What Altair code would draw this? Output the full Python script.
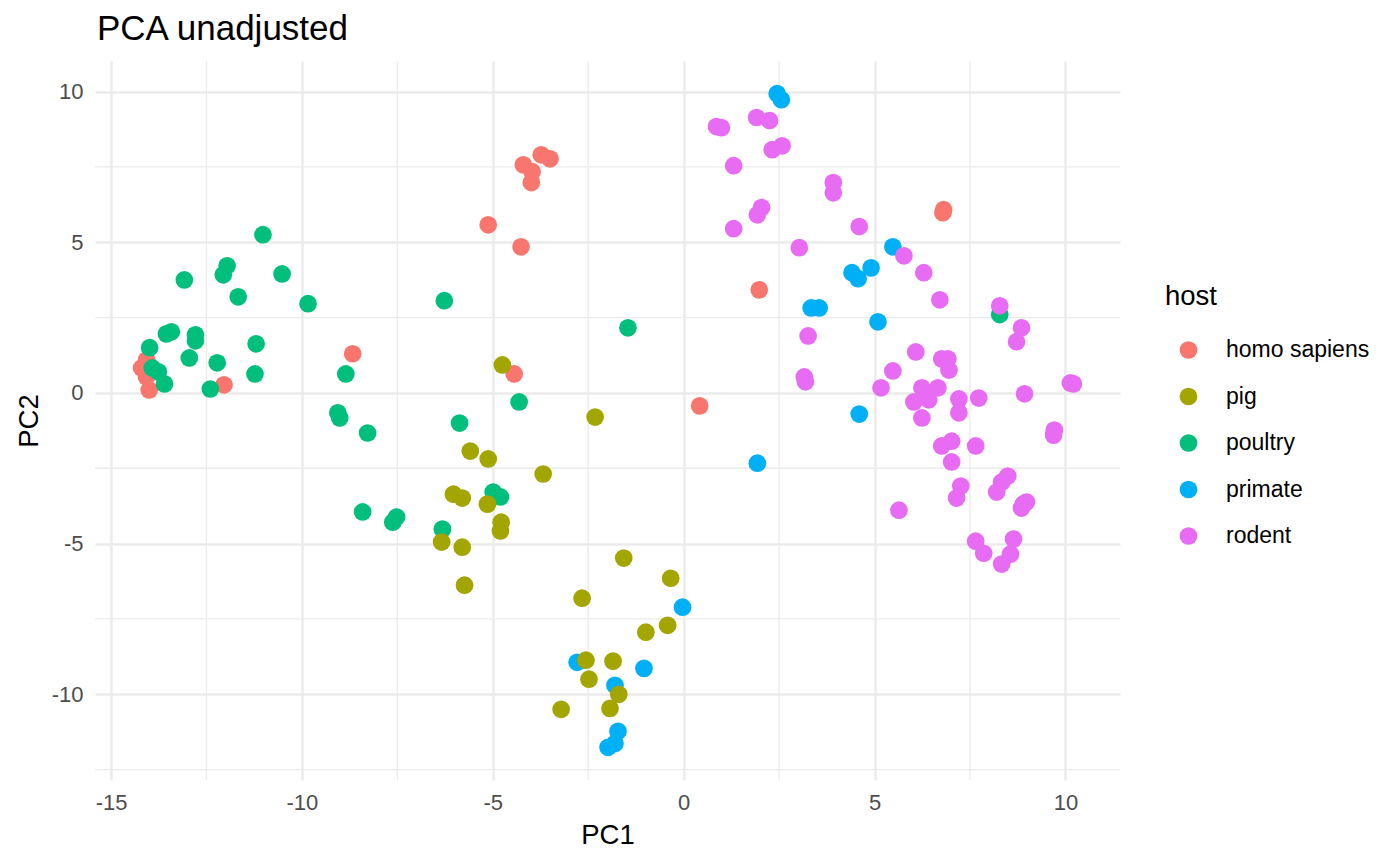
import altair as alt
import pandas as pd

hosts = ["homo sapiens", "pig", "poultry", "primate", "rodent"]
colors = ["#F8766D", "#A3A500", "#00BF7D", "#00B0F6", "#E76BF3"]

homo_x = [-14.07, -14.2, -14.07, -14.0, -12.04, -8.67, -4.44, -5.12, -4.26, -4.2, -3.73, -3.5, -3.99, -3.97, 0.42, 1.98, 6.79, 6.81]
homo_y = [1.1, 0.83, 0.53, 0.1, 0.27, 1.3, 0.63, 5.58, 4.85, 7.57, 7.9, 7.77, 6.98, 7.34, -0.43, 3.42, 5.98, 6.08]

poultry_x = [-11.02, -11.96, -12.06, -13.08, -10.52, -11.67, -9.84, -13.42, -13.55, -12.79, -12.79, -13.99, -11.2, -12.95, -12.22, -13.92, -13.76, -11.23, -13.6, -12.4, -8.85, -6.27, -4.31, -9.06, -9.01, -8.28, -5.87, -4.99, -4.8, -8.41, -7.52, -7.62, -6.32, 8.28, -1.46]
poultry_y = [5.25, 4.22, 3.92, 3.75, 3.95, 3.19, 2.96, 2.03, 1.96, 1.93, 1.73, 1.5, 1.63, 1.16, 1.0, 0.83, 0.7, 0.63, 0.3, 0.13, 0.63, 3.06, -0.3, -0.66, -0.83, -1.33, -1.0, -3.29, -3.45, -3.95, -4.12, -4.29, -4.52, 2.6, 2.16]

primate_x = [-0.03, -2.79, -1.04, -1.8, -1.72, -1.8, -1.98, 2.45, 2.56, 5.48, 4.41, 4.57, 4.91, 3.34, 3.55, 5.09, 4.6, 1.93]
primate_y = [-7.11, -8.94, -9.14, -9.7, -11.23, -11.63, -11.76, 9.93, 9.73, 4.85, 3.99, 3.79, 4.15, 2.82, 2.82, 2.36, -0.7, -2.33]

pig_x = [-4.75, -2.32, -5.59, -5.12, -3.68, -6.03, -5.8, -5.14, -4.78, -4.8, -6.34, -5.8, -5.74, -1.57, -2.66, -0.99, -0.34, -0.42, -2.56, -1.85, -2.48, -1.7, -1.93, -3.21]
pig_y = [0.93, -0.8, -1.93, -2.19, -2.69, -3.36, -3.49, -3.69, -4.29, -4.58, -4.95, -5.12, -6.38, -5.48, -6.81, -7.94, -6.15, -7.71, -8.87, -8.9, -9.5, -10.0, -10.47, -10.5]

rodent_x = [0.86, 0.99, 1.91, 2.25, 2.32, 2.58, 1.31, 3.92, 3.92, 2.04, 1.93, 1.31, 4.6, 3.03, 5.77, 6.29, 6.71, 3.26, 3.16, 3.19, 6.08, 5.48, 5.17, 6.76, 6.95, 6.92, 6.24, 6.66, 6.03, 6.42, 6.24, 8.28, 8.85, 8.72, 7.21, 7.73, 7.21, 8.93, 10.13, 10.21, 9.71, 9.69, 6.76, 7.02, 7.65, 7.02, 8.49, 8.33, 8.2, 7.26, 7.15, 8.9, 8.85, 8.98, 5.64, 7.65, 7.86, 8.64, 8.56, 8.33]
rodent_y = [8.84, 8.8, 9.14, 9.04, 8.07, 8.2, 7.54, 6.98, 6.64, 6.15, 5.91, 5.45, 5.52, 4.82, 4.55, 3.99, 3.09, 1.89, 0.53, 0.37, 1.36, 0.73, 0.17, 1.13, 0.76, 1.13, 0.17, 0.17, -0.3, -0.23, -0.83, 2.89, 2.16, 1.7, -0.2, -0.17, -0.66, -0.03, 0.33, 0.3, -1.23, -1.4, -1.76, -1.6, -1.76, -2.29, -2.76, -2.96, -3.29, -3.09, -3.49, -3.69, -3.82, -3.62, -3.89, -4.92, -5.32, -4.85, -5.35, -5.68]

major_x = [-15, -10, -5, 0, 5, 10]
major_y = [-10, -5, 0, 5, 10]
minor_x = [-12.5, -7.5, -2.5, 2.5, 7.5]
minor_y = [-12.5, -7.5, -2.5, 2.5, 7.5]

# drawing order as in reference
groups = [
    ("homo sapiens", homo_x, homo_y),
    ("poultry", poultry_x, poultry_y),
    ("primate", primate_x, primate_y),
    ("pig", pig_x, pig_y),
    ("rodent", rodent_x, rodent_y),
]
rows = []
for h, xs, ys in groups:
    for a, b in zip(xs, ys):
        rows.append({"PC1": a, "PC2": b, "host": h})
df = pd.DataFrame(rows)

def expand(vals, f=0.05):
    lo, hi = min(vals), max(vals)
    r = hi - lo
    return [lo - f * r, hi + f * r]

xdom = expand(df["PC1"].tolist())
ydom = expand(df["PC2"].tolist())

FONT = "Liberation Sans"
GRID = "#EBEBEB"

xscale = alt.Scale(domain=xdom, nice=False, zero=False)
yscale = alt.Scale(domain=ydom, nice=False, zero=False)

minor_x_layer = alt.Chart(pd.DataFrame({"v": minor_x})).mark_rule(
    color=GRID, strokeWidth=1.3
).encode(x=alt.X("v:Q", scale=xscale))

minor_y_layer = alt.Chart(pd.DataFrame({"v": minor_y})).mark_rule(
    color=GRID, strokeWidth=1.3
).encode(y=alt.Y("v:Q", scale=yscale))

points = alt.Chart(df).mark_point(
    filled=True, size=314, opacity=1, strokeWidth=0, shape="circle"
).encode(
    x=alt.X("PC1:Q", scale=xscale, title="PC1",
            axis=alt.Axis(values=major_x, grid=True, gridColor=GRID, gridWidth=2.5,
                          domain=False, ticks=False, labelPadding=12, titlePadding=8,
                          labelExpr="datum.value + ''")),
    y=alt.Y("PC2:Q", scale=yscale, title="PC2",
            axis=alt.Axis(values=major_y, grid=True, gridColor=GRID, gridWidth=2.5,
                          domain=False, ticks=False, labelPadding=12, titlePadding=8,
                          labelExpr="datum.value + ''")),
    color=alt.Color("host:N", scale=alt.Scale(domain=hosts, range=colors),
                    legend=alt.Legend(title="host", orient="none", legendX=1070, legendY=222,
                                      symbolType="circle", symbolSize=314, symbolStrokeWidth=0,
                                      symbolOpacity=1, symbolOffset=12, labelOffset=26,
                                      rowPadding=22.5, titlePadding=28, padding=0)),
)

chart = alt.layer(minor_x_layer, minor_y_layer, points).properties(
    width=1025,
    height=719,
    title=alt.TitleParams("PCA unadjusted", anchor="start", frame="group", fontSize=35,
                          font=FONT, fontWeight="normal", color="black", offset=13, dx=2),
    autosize=alt.AutoSizeParams(type="none"),
    padding={"left": 87, "top": 53, "right": 270, "bottom": 70},
).configure_view(stroke=None).configure_axis(
    labelFont=FONT, titleFont=FONT, labelFontSize=22, titleFontSize=27.5,
    labelColor="#4D4D4D", titleColor="black", titleFontWeight="normal",
).configure_legend(
    labelFont=FONT, titleFont=FONT, labelFontSize=23, titleFontSize=27.5,
    labelColor="black", titleColor="black", titleFontWeight="normal",
)

chart.save("out.html", embed_options={"renderer": "svg", "actions": False})
